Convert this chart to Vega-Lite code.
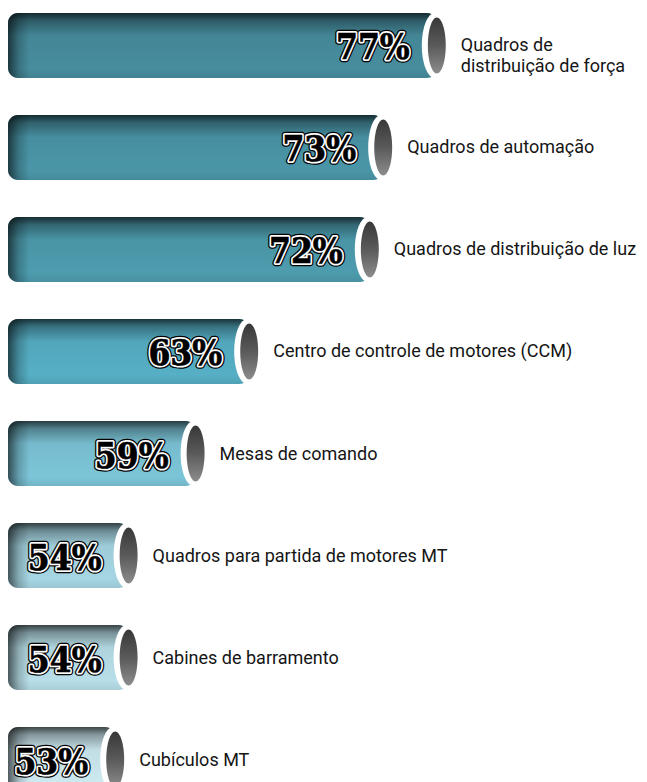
{
  "$schema": "https://vega.github.io/schema/vega-lite/v6.json",
  "width": 603,
  "height": 769,
  "autosize": "none",
  "padding": {"left": 8, "top": 13, "right": 36, "bottom": 0},
  "background": "white",
  "config": {"view": {"stroke": null}},
  "data": {
    "values": [
      {"category": "Quadros de distribuição de força", "label": "Quadros de\ndistribuição de força", "value": 77, "pct": "77%"},
      {"category": "Quadros de automação", "label": "Quadros de automação", "value": 73, "pct": "73%"},
      {"category": "Quadros de distribuição de luz", "label": "Quadros de distribuição de luz", "value": 72, "pct": "72%"},
      {"category": "Centro de controle de motores (CCM)", "label": "Centro de controle de motores (CCM)", "value": 63, "pct": "63%"},
      {"category": "Mesas de comando", "label": "Mesas de comando", "value": 59, "pct": "59%"},
      {"category": "Quadros para partida de motores MT", "label": "Quadros para partida de motores MT", "value": 54, "pct": "54%"},
      {"category": "Cabines de barramento", "label": "Cabines de barramento", "value": 54, "pct": "54%"},
      {"category": "Cubículos MT", "label": "Cubículos MT", "value": 53, "pct": "53%"}
    ]
  },
  "encoding": {
    "y": {
      "field": "category",
      "type": "nominal",
      "sort": null,
      "axis": null,
      "scale": {"range": [0, 779], "paddingInner": 0.363, "paddingOuter": 0}
    }
  },
  "layer": [
    {
      "mark": {"type": "bar", "cornerRadius": 10},
      "encoding": {
        "x": {"field": "value", "type": "quantitative", "scale": {"domain": [45, 90], "nice": false, "zero": false}, "axis": null},
        "x2": {"datum": 45},
        "color": {
          "field": "category",
          "type": "nominal",
          "sort": null,
          "legend": null,
          "scale": {"range": ["#478d9e", "#4a96a8", "#4d9cae", "#56afc5", "#7cc5d8", "#a6d6e3", "#b8dfe9", "#cde9f0"]}
        }
      }
    },
    {
      "mark": {
        "type": "bar",
        "cornerRadius": 10,
        "fill": {
          "gradient": "linear", "x1": 0, "y1": 0, "x2": 0, "y2": 1,
          "stops": [
            {"offset": 0, "color": "rgba(0,0,0,0.7)"},
            {"offset": 0.12, "color": "rgba(0,0,0,0.35)"},
            {"offset": 0.35, "color": "rgba(0,0,0,0.05)"},
            {"offset": 0.85, "color": "rgba(0,0,0,0)"},
            {"offset": 1, "color": "rgba(0,0,0,0.08)"}
          ]
        }
      },
      "encoding": {
        "x": {"field": "value", "type": "quantitative"},
        "x2": {"datum": 45}
      }
    },
    {
      "mark": {
        "type": "bar",
        "cornerRadiusTopLeft": 10,
        "cornerRadiusBottomLeft": 10,
        "fill": {
          "gradient": "linear", "x1": 0, "y1": 0, "x2": 1, "y2": 0,
          "stops": [
            {"offset": 0, "color": "rgba(0,0,0,0.6)"},
            {"offset": 0.5, "color": "rgba(0,0,0,0.2)"},
            {"offset": 1, "color": "rgba(0,0,0,0)"}
          ]
        }
      },
      "encoding": {
        "x": {"datum": 45, "type": "quantitative"},
        "x2": {"datum": 46.6}
      }
    },
    {
      "mark": {
        "type": "point",
        "shape": "M0,-1C0.2209,-1,0.4,-0.5523,0.4,0C0.4,0.5523,0.2209,1,0,1C-0.2209,1,-0.4,0.5523,-0.4,0C-0.4,-0.5523,-0.2209,-1,0,-1Z",
        "filled": true,
        "color": "white",
        "opacity": 1,
        "size": 4225,
        "xOffset": -2
      },
      "encoding": {"x": {"field": "value", "type": "quantitative"}}
    },
    {
      "mark": {
        "type": "point",
        "shape": "M0,-1C0.1767,-1,0.32,-0.5523,0.32,0C0.32,0.5523,0.1767,1,0,1C-0.1767,1,-0.32,0.5523,-0.32,0C-0.32,-0.5523,-0.1767,-1,0,-1Z",
        "filled": true,
        "opacity": 1,
        "strokeWidth": 0,
        "size": 3136,
        "fill": {
          "gradient": "linear", "x1": 0, "y1": 0, "x2": 0, "y2": 1,
          "stops": [
            {"offset": 0, "color": "#383838"},
            {"offset": 0.5, "color": "#5a5a5a"},
            {"offset": 1, "color": "#8c8c8c"}
          ]
        }
      },
      "encoding": {"x": {"field": "value", "type": "quantitative"}}
    },
    {
      "mark": {
        "type": "text", "align": "right", "baseline": "middle", "dx": -27, "dy": 3,
        "font": "DejaVu Serif Condensed", "fontWeight": "bold", "fontSize": 35,
        "fill": "black", "stroke": "black", "strokeWidth": 6.5, "strokeJoin": "round"
      },
      "encoding": {"x": {"field": "value", "type": "quantitative"}, "text": {"field": "pct"}}
    },
    {
      "mark": {
        "type": "text", "align": "right", "baseline": "middle", "dx": -27, "dy": 3,
        "font": "DejaVu Serif Condensed", "fontWeight": "bold", "fontSize": 35,
        "fill": "white", "stroke": "white", "strokeWidth": 4, "strokeJoin": "round"
      },
      "encoding": {"x": {"field": "value", "type": "quantitative"}, "text": {"field": "pct"}}
    },
    {
      "mark": {
        "type": "text", "align": "right", "baseline": "middle", "dx": -27, "dy": 3,
        "font": "DejaVu Serif Condensed", "fontWeight": "bold", "fontSize": 35,
        "fill": "black", "stroke": "black", "strokeWidth": 0.6
      },
      "encoding": {"x": {"field": "value", "type": "quantitative"}, "text": {"field": "pct"}}
    },
    {
      "mark": {
        "type": "text", "align": "left", "baseline": "middle", "dx": 24, "dy": 1,
        "font": "Roboto", "fontSize": 18, "fill": "#151515",
        "lineBreak": "\n", "lineHeight": 21
      },
      "encoding": {"x": {"field": "value", "type": "quantitative"}, "text": {"field": "label"}}
    }
  ]
}
